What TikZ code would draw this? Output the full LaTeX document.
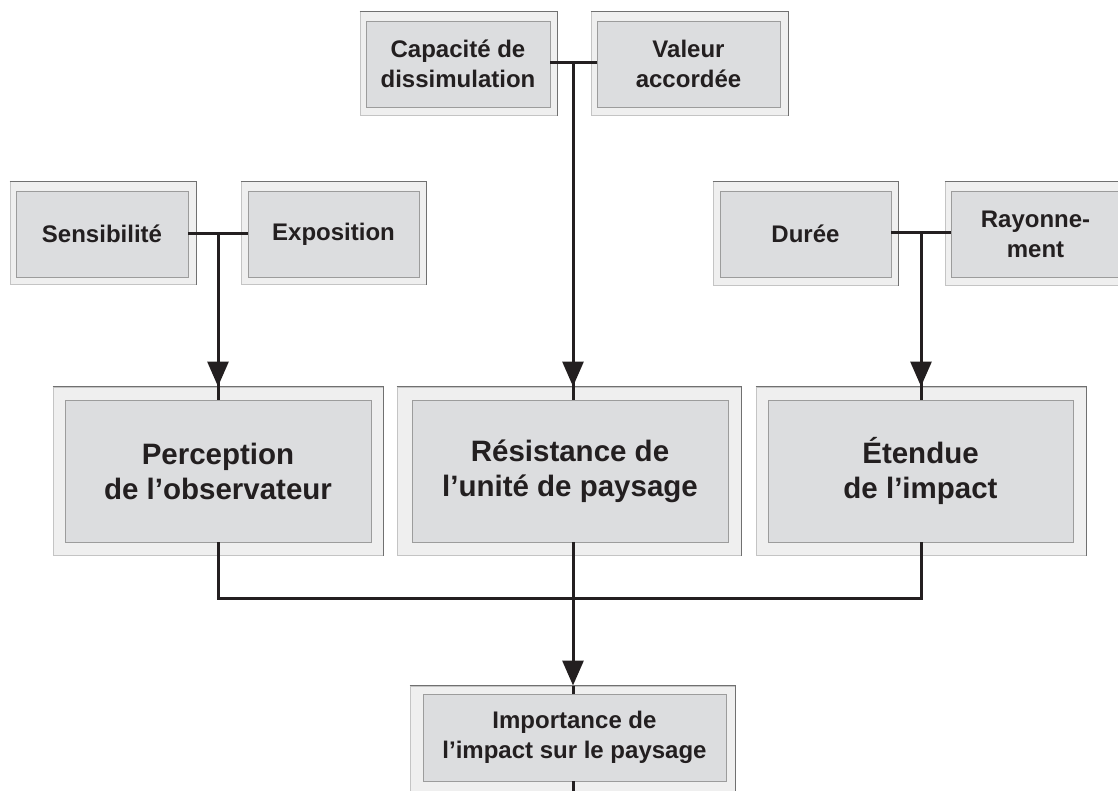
\documentclass[tikz,border=0pt]{standalone}
\usepackage{fontspec}
\setmainfont{Liberation Sans}
\usetikzlibrary{arrows.meta}
\definecolor{outerfill}{HTML}{EFEFEF}
\definecolor{innerfill}{HTML}{DCDDDF}
\definecolor{edgedark}{HTML}{707070}
\definecolor{edgelight}{HTML}{C4C4C4}
\definecolor{edgeinner}{HTML}{9C9C9C}
\definecolor{ink}{HTML}{231F20}
\tikzset{
  outerbox/.style={draw=edgelight, fill=outerfill, line width=1pt, inner sep=0pt},
  innerbox/.style={draw=edgeinner, fill=innerfill, line width=0.8pt, inner sep=0pt, align=center, text=ink},
  smalltxt/.style={font=\fontsize{24}{30}\selectfont\bfseries},
  bigtxt/.style={font=\fontsize{29.5}{35}\selectfont\bfseries},
  conn/.style={draw=ink, line width=3pt},
  arr/.style={conn, -{Triangle[length=25pt, width=21pt]}},
}
\begin{document}
\begin{tikzpicture}[x=1pt, y=-1pt]
\useasboundingbox (0,0) rectangle (1118,791);
% ---- top row
\node[outerbox, minimum width=197pt, minimum height=104pt] (capO) at (458.5,64) {};
\node[innerbox, smalltxt, minimum width=184pt, minimum height=86pt] (capI) at (458,64) {Capacité de\\dissimulation};
\node[outerbox, minimum width=197pt, minimum height=104pt] (valO) at (689.5,64) {};
\node[innerbox, smalltxt, minimum width=183pt, minimum height=86pt] (valI) at (688.5,64) {Valeur\\accordée};
% ---- second row
\node[outerbox, minimum width=186pt, minimum height=103pt] (senO) at (103,233.5) {};
\node[innerbox, smalltxt, minimum width=172pt, minimum height=86pt] (senI) at (102,234) {Sensibilité};
\node[outerbox, minimum width=185pt, minimum height=103pt] (expO) at (333.5,233.5) {};
\node[innerbox, smalltxt, minimum width=171pt, minimum height=86pt] (expI) at (333.5,234) {Exposition};
\node[outerbox, minimum width=185pt, minimum height=104pt] (durO) at (805.5,234) {};
\node[innerbox, smalltxt, minimum width=171pt, minimum height=86pt] (durI) at (805.5,234) {Durée};
\node[outerbox, minimum width=183pt, minimum height=104pt] (rayO) at (1036.5,234) {};
\node[innerbox, smalltxt, minimum width=169pt, minimum height=86pt] (rayI) at (1035.5,234) {Rayonne-\\ment};
% ---- big boxes
\node[outerbox, minimum width=330pt, minimum height=168pt] (perO) at (218,471) {};
\node[innerbox, bigtxt, minimum width=306pt, minimum height=142pt] (perI) at (218,471) {Perception\\de l’observateur};
\node[outerbox, minimum width=344pt, minimum height=168pt] (resO) at (569,471) {};
\node[innerbox, bigtxt, minimum width=316pt, minimum height=142pt] (resI) at (570,471) {Résistance de\\l’unité de paysage};
\node[outerbox, minimum width=330pt, minimum height=168pt] (etO) at (921,471) {};
\node[innerbox, bigtxt, minimum width=305pt, minimum height=142pt] (etI) at (920.5,471) {Étendue\\de l’impact};
% ---- bottom box
\node[outerbox, minimum width=325pt, minimum height=106pt] (impO) at (572.5,739) {};
\node[innerbox, smalltxt, minimum width=303pt, minimum height=87pt] (impI) at (574.5,737.5) {Importance de\\l’impact sur le paysage};
% darker top and right edges of the outer frames
\foreach \b in {capO,valO,senO,expO,durO,rayO,perO,resO,etO,impO}
  \draw[edgedark, line width=1.4pt] (\b.north west) -- (\b.north east) -- (\b.south east);
% ---- connectors
\coordinate (j1) at (573,63);
\coordinate (j2) at (218,234);
\coordinate (j3) at (921,233);
\coordinate (bus) at (573,598);
\coordinate (out) at (573,791);
\draw[conn] (capI.east |- j1) -- (valI.west |- j1);
\draw[conn] (j1) -- (j1 |- resI.north);
\draw[arr] (j1) -- (j1 |- resO.north);
\draw[conn] (senI.east |- j2) -- (expI.west |- j2);
\draw[conn] (j2) -- (j2 |- perI.north);
\draw[arr] (j2) -- (j2 |- perO.north);
\draw[conn] (durI.east |- j3) -- (rayI.west |- j3);
\draw[conn] (j3) -- (j3 |- etI.north);
\draw[arr] (j3) -- (j3 |- etO.north);
\draw[conn, line join=miter] (j2 |- perI.south) |- (bus) -| (j3 |- etI.south);
\draw[conn] (j1 |- resI.south) -- (bus);
\draw[arr] (bus) -- (bus |- impO.north);
\draw[conn] (bus |- impO.north) -- (bus |- impI.north);
\draw[conn] (bus |- impI.south) -- (out);
\end{tikzpicture}
\end{document}
